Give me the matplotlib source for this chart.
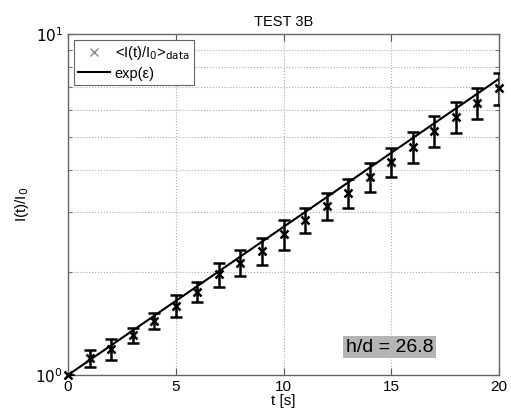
import numpy as np
import matplotlib
matplotlib.use("Agg")
import matplotlib.pyplot as plt
from matplotlib.lines import Line2D
from matplotlib.ticker import LogLocator, NullFormatter, FixedLocator

plt.rcParams['font.family'] = ['Liberation Sans', 'DejaVu Sans']

t_data = [0, 1, 2, 3, 4, 5, 6, 7, 8, 9, 10, 11, 12, 13, 14, 15, 16, 17, 18, 19, 20]
I_data = [1.0, 1.119, 1.192, 1.310, 1.443, 1.594, 1.755, 1.974, 2.135, 2.314, 2.592,
          2.848, 3.130, 3.424, 3.816, 4.223, 4.673, 5.194, 5.721, 6.288, 6.931]
I_err = [0.0, 0.063, 0.083, 0.068, 0.075, 0.117, 0.12, 0.16, 0.19, 0.21, 0.26,
         0.24, 0.28, 0.34, 0.37, 0.41, 0.48, 0.54, 0.60, 0.66, 0.74]
eps_rate = 0.1
t_line = np.linspace(0, 20, 200)
xticks = [0, 5, 10, 15, 20]

fig = plt.figure(figsize=(5.11, 4.17), dpi=100)
ax = fig.add_axes([68/511, 42/417, 431/511, 341/417])

ax.plot(t_line, np.exp(eps_rate * t_line), color='black', lw=1.5, zorder=3)
ax.errorbar(t_data, I_data, yerr=I_err, fmt='none', ecolor='black',
            elinewidth=1.8, capsize=4.5, capthick=1.8, zorder=4)
ax.plot(t_data, I_data, 'x', color='black', ms=6, mew=1.8, zorder=5, clip_on=False)

ax.set_yscale('log')
ax.set_xlim(0, 20)
ax.set_ylim(1, 10)
ax.set_xticks(xticks)
ax.set_xticklabels([str(v) for v in xticks])
ax.yaxis.set_major_locator(FixedLocator([1, 10]))
ax.yaxis.set_minor_locator(LogLocator(base=10, subs=np.arange(2, 10)))
ax.yaxis.set_minor_formatter(NullFormatter())
ax.set_yticklabels([r'$10^0$', r'$10^1$'])

ax.tick_params(which='both', direction='in', top=True, right=True, labelsize=11,
               color='#555555')
ax.tick_params(which='major', length=5)
ax.tick_params(which='minor', length=3)
ax.grid(True, which='major', axis='x', ls=':', color='#aaaaaa', lw=0.8)
ax.grid(True, which='minor', axis='y', ls=':', color='#aaaaaa', lw=0.8)
for s in ax.spines.values():
    s.set_color('#666666')
    s.set_linewidth(1.0)

ax.set_title('TEST 3B', fontsize=10.5, pad=6)
ax.set_xlabel('t [s]', fontsize=11, labelpad=0)
ax.set_ylabel('I(t)/I$_0$', fontsize=11)
ax.yaxis.set_label_coords(-0.085, 0.5)

handles = [Line2D([], [], ls='none', marker='x', color='#888888', ms=6, mew=1),
           Line2D([], [], color='black', lw=1.5)]
labels = ['<I(t)/I$_0$>$_{\\mathrm{data}}$', 'exp(ε)']
leg = ax.legend(handles, labels, loc='upper left', fontsize=10.5, fancybox=False,
                framealpha=1, edgecolor='#666666', borderaxespad=0.4,
                handlelength=2.2, handletextpad=0.3, borderpad=0.3, labelspacing=0.3)
leg.get_frame().set_linewidth(0.8)

ax.text(14.94, 1.208, 'h/d = 26.8', fontsize=14, ha='center', va='center',
        bbox=dict(facecolor='#b4b4b4', edgecolor='none', pad=2), zorder=6)

fig.savefig('out.png', dpi=100)
